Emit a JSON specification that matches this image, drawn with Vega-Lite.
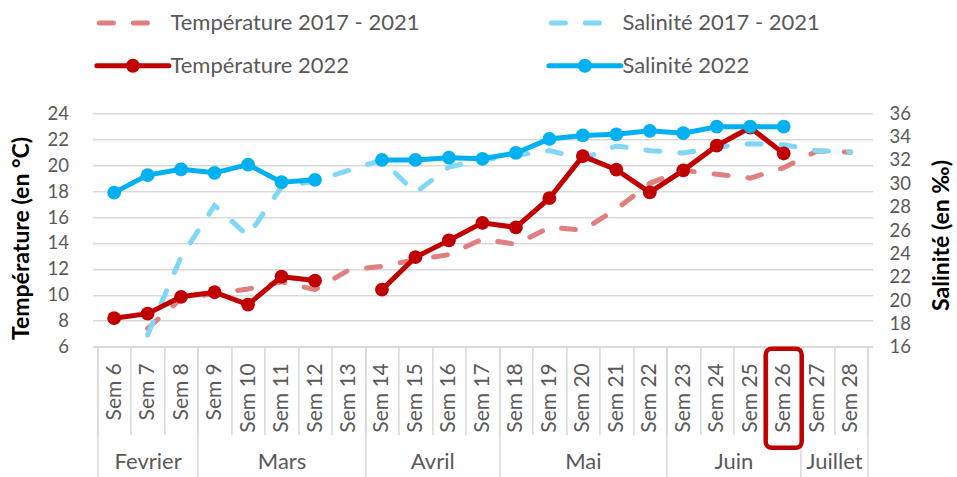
{
  "$schema": "https://vega.github.io/schema/vega-lite/v6.json",
  "width": 780,
  "height": 233.4,
  "autosize": {"type": "none"},
  "padding": {"left": 92.4, "top": 113.3, "right": 84.6, "bottom": 130.3},
  "config": {
    "font": "Lato",
    "view": {"stroke": null},
    "axis": {"labelFont": "Lato", "titleFont": "Lato"},
    "legend": {"labelFont": "Lato"}
  },
  "datasets": {
    "semaines": [
      {"sem": 6, "mois": "Fevrier", "temp_moy": null, "sal_moy": null, "temp_2022": 8.2, "sal_2022": 29.2},
      {"sem": 7, "mois": "Fevrier", "temp_moy": 7.4, "sal_moy": 17.0, "temp_2022": 8.55, "sal_2022": 30.7},
      {"sem": 8, "mois": "Fevrier", "temp_moy": 9.7, "sal_moy": 23.7, "temp_2022": 9.85, "sal_2022": 31.2},
      {"sem": 9, "mois": "Mars", "temp_moy": 10.1, "sal_moy": 28.1, "temp_2022": 10.2, "sal_2022": 30.9},
      {"sem": 10, "mois": "Mars", "temp_moy": 10.45, "sal_moy": 25.5, "temp_2022": 9.25, "sal_2022": 31.6},
      {"sem": 11, "mois": "Mars", "temp_moy": 11.0, "sal_moy": 29.7, "temp_2022": 11.4, "sal_2022": 30.1},
      {"sem": 12, "mois": "Mars", "temp_moy": 10.4, "sal_moy": 30.2, "temp_2022": 11.1, "sal_2022": 30.3},
      {"sem": 13, "mois": "Mars", "temp_moy": 11.9, "sal_moy": 31.1, "temp_2022": null, "sal_2022": null},
      {"sem": 14, "mois": "Avril", "temp_moy": 12.2, "sal_moy": 32.0, "temp_2022": 10.4, "sal_2022": 32.0},
      {"sem": 15, "mois": "Avril", "temp_moy": 12.7, "sal_moy": 29.2, "temp_2022": 12.9, "sal_2022": 32.0},
      {"sem": 16, "mois": "Avril", "temp_moy": 13.1, "sal_moy": 31.4, "temp_2022": 14.2, "sal_2022": 32.2},
      {"sem": 17, "mois": "Avril", "temp_moy": 14.3, "sal_moy": 32.0, "temp_2022": 15.55, "sal_2022": 32.1},
      {"sem": 18, "mois": "Mai", "temp_moy": 13.9, "sal_moy": 32.4, "temp_2022": 15.2, "sal_2022": 32.6},
      {"sem": 19, "mois": "Mai", "temp_moy": 15.2, "sal_moy": 32.8, "temp_2022": 17.45, "sal_2022": 33.8},
      {"sem": 20, "mois": "Mai", "temp_moy": 15.0, "sal_moy": 32.1, "temp_2022": 20.7, "sal_2022": 34.1},
      {"sem": 21, "mois": "Mai", "temp_moy": 16.6, "sal_moy": 33.2, "temp_2022": 19.65, "sal_2022": 34.2},
      {"sem": 22, "mois": "Mai", "temp_moy": 18.6, "sal_moy": 32.8, "temp_2022": 17.9, "sal_2022": 34.5},
      {"sem": 23, "mois": "Juin", "temp_moy": 19.6, "sal_moy": 32.6, "temp_2022": 19.6, "sal_2022": 34.3},
      {"sem": 24, "mois": "Juin", "temp_moy": 19.3, "sal_moy": 33.1, "temp_2022": 21.5, "sal_2022": 34.85},
      {"sem": 25, "mois": "Juin", "temp_moy": 19.0, "sal_moy": 33.4, "temp_2022": 22.9, "sal_2022": 34.85},
      {"sem": 26, "mois": "Juin", "temp_moy": 19.8, "sal_moy": 33.3, "temp_2022": 20.9, "sal_2022": 34.85},
      {"sem": 27, "mois": "Juillet", "temp_moy": 21.1, "sal_moy": 32.8, "temp_2022": null, "sal_2022": null},
      {"sem": 28, "mois": "Juillet", "temp_moy": 21.0, "sal_moy": 32.7, "temp_2022": null, "sal_2022": null}
    ],
    "encadre": [{"sem": 26}]
  },
  "data": {"name": "semaines"},
  "layer": [
    {
      "mark": {"type": "line", "strokeWidth": 5, "strokeDash": [14, 20], "strokeCap": "round"},
      "encoding": {
        "x": {
          "field": "sem", "type": "quantitative",
          "scale": {"domain": [5.5, 28.5], "nice": false, "zero": false},
          "axis": {
            "orient": "bottom", "title": null,
            "values": [6,7,8,9,10,11,12,13,14,15,16,17,18,19,20,21,22,23,24,25,26,27,28],
            "labelExpr": "'Sem ' + datum.value",
            "labelAngle": -90, "labelAlign": "right", "labelBaseline": "middle",
            "labelFontSize": 21, "labelColor": "#595959", "labelPadding": 16,
            "labelFlush": false, "labelOverlap": false, "labelBound": false,
            "ticks": false, "grid": false,
            "domain": true, "domainColor": "#d9d9d9", "domainWidth": 1.5
          }
        },
        "y": {
          "field": "temp_moy", "type": "quantitative",
          "scale": {"domain": [6, 24], "nice": false, "zero": false},
          "axis": {
            "orient": "left",
            "values": [6,8,10,12,14,16,18,20,22,24],
            "grid": true, "gridColor": "#d9d9d9", "gridWidth": 1.5,
            "domain": false, "ticks": false,
            "labelFontSize": 18.5, "labelColor": "#595959", "labelPadding": 24, "labelOverlap": false,
            "title": "Température (en °C)", "titleFontSize": 23, "titleFontWeight": "bold",
            "titleColor": "#000000", "titlePadding": 13, "titleY": 124.7
          }
        },
        "color": {
          "datum": "Température 2017 - 2021", "type": "nominal",
          "scale": {
            "domain": ["Température 2017 - 2021", "Salinité 2017 - 2021", "Température 2022", "Salinité 2022"],
            "range": ["#E07F7F", "#80D7F7", "#C00000", "#00B0F0"]
          },
          "legend": {
            "title": null, "orient": "none", "legendX": 28, "legendY": -103,
            "direction": "horizontal", "columns": 2, "columnPadding": 118, "rowPadding": 17,
            "padding": 0, "symbolSize": 400, "labelOffset": 25,
            "labelFontSize": 22, "labelColor": "#595959", "labelLimit": 0,
            "encode": {
              "symbols": {
                "update": {
                  "shape": {"signal": "indexof(datum.label, '2022') >= 0 ? 'M-3.6,0L3.6,0M0.45,0A0.45,0.45,0,1,1,-0.45,0A0.45,0.45,0,1,1,0.45,0Z' : 'M-3.35,0L2.2,0'"},
                  "strokeDash": {"signal": "indexof(datum.label, '2022') >= 0 ? [] : [14, 20]"},
                  "strokeWidth": {"value": 5},
                  "strokeCap": {"value": "round"},
                  "stroke": {"scale": "color", "field": "value"},
                  "fill": {"scale": "color", "field": "value"},
                  "opacity": {"value": 1}
                }
              }
            }
          }
        }
      }
    },
    {
      "mark": {"type": "line", "strokeWidth": 5, "strokeDash": [14, 20], "strokeCap": "round"},
      "encoding": {
        "x": {
          "field": "sem", "type": "quantitative",
          "axis": {
            "orient": "bottom", "title": null,
            "values": [5.5,6.5,7.5,8.5,9.5,10.5,11.5,12.5,13.5,14.5,15.5,16.5,17.5,18.5,19.5,20.5,21.5,22.5,23.5,24.5,25.5,26.5,27.5,28.5],
            "labels": false, "ticks": true, "tickSize": 88, "tickColor": "#d9d9d9", "tickWidth": 1.5,
            "domain": false, "grid": false
          }
        },
        "y": {
          "field": "sal_moy", "type": "quantitative",
          "scale": {"domain": [16, 36], "nice": false, "zero": false},
          "axis": {
            "orient": "right",
            "values": [16,18,20,22,24,26,28,30,32,34,36],
            "grid": false, "domain": false, "ticks": false,
            "labelFontSize": 18.5, "labelColor": "#595959", "labelPadding": 16.6, "labelOverlap": false,
            "title": "Salinité (en ‰)", "titleFontSize": 23, "titleFontWeight": "bold",
            "titleColor": "#000000", "titlePadding": 43, "titleAngle": -90, "titleY": 121.7
          }
        },
        "color": {"datum": "Salinité 2017 - 2021", "type": "nominal"}
      }
    },
    {
      "mark": {"type": "line", "strokeWidth": 5, "point": {"filled": true, "size": 190, "opacity": 1}},
      "encoding": {
        "x": {
          "field": "sem", "type": "quantitative",
          "axis": {
            "orient": "bottom", "title": null,
            "values": [5.5, 8.5, 13.5, 17.5, 22.5, 26.5, 28.5],
            "labels": false, "ticks": true, "tickSize": 131, "tickColor": "#d9d9d9", "tickWidth": 1.5,
            "domain": false, "grid": false
          }
        },
        "y": {
          "field": "temp_2022", "type": "quantitative",
          "scale": {"domain": [6, 24], "nice": false, "zero": false},
          "axis": null
        },
        "color": {"datum": "Température 2022", "type": "nominal"}
      }
    },
    {
      "mark": {"type": "line", "strokeWidth": 5, "point": {"filled": true, "size": 190, "opacity": 1}},
      "encoding": {
        "x": {
          "field": "sem", "type": "quantitative",
          "axis": {
            "orient": "bottom", "title": null,
            "values": [7, 11, 15.5, 20, 24.5, 27.5],
            "labelExpr": "datum.value == 7 ? 'Fevrier' : datum.value == 11 ? 'Mars' : datum.value == 15.5 ? 'Avril' : datum.value == 20 ? 'Mai' : datum.value == 24.5 ? 'Juin' : 'Juillet'",
            "labelAngle": 0, "labelAlign": "center", "labelBaseline": "top",
            "labelFontSize": 22, "labelColor": "#595959", "labelPadding": 105,
            "labelFlush": false, "labelOverlap": false, "labelBound": false,
            "ticks": false, "domain": false, "grid": false
          }
        },
        "y": {
          "field": "sal_2022", "type": "quantitative",
          "scale": {"domain": [16, 36], "nice": false, "zero": false},
          "axis": null
        },
        "color": {"datum": "Salinité 2022", "type": "nominal"}
      }
    },
    {
      "data": {"name": "encadre"},
      "mark": {"type": "bar", "width": 36, "fill": "transparent", "stroke": "#C00000", "strokeWidth": 4.5, "cornerRadius": 6},
      "encoding": {
        "x": {"field": "sem", "type": "quantitative", "axis": null},
        "y": {"datum": 5.85, "type": "quantitative", "scale": {"domain": [6, 24], "nice": false, "zero": false}, "axis": null},
        "y2": {"datum": -1.8}
      }
    }
  ],
  "resolve": {
    "scale": {"y": "independent"},
    "axis": {"x": "independent", "y": "independent"}
  }
}
